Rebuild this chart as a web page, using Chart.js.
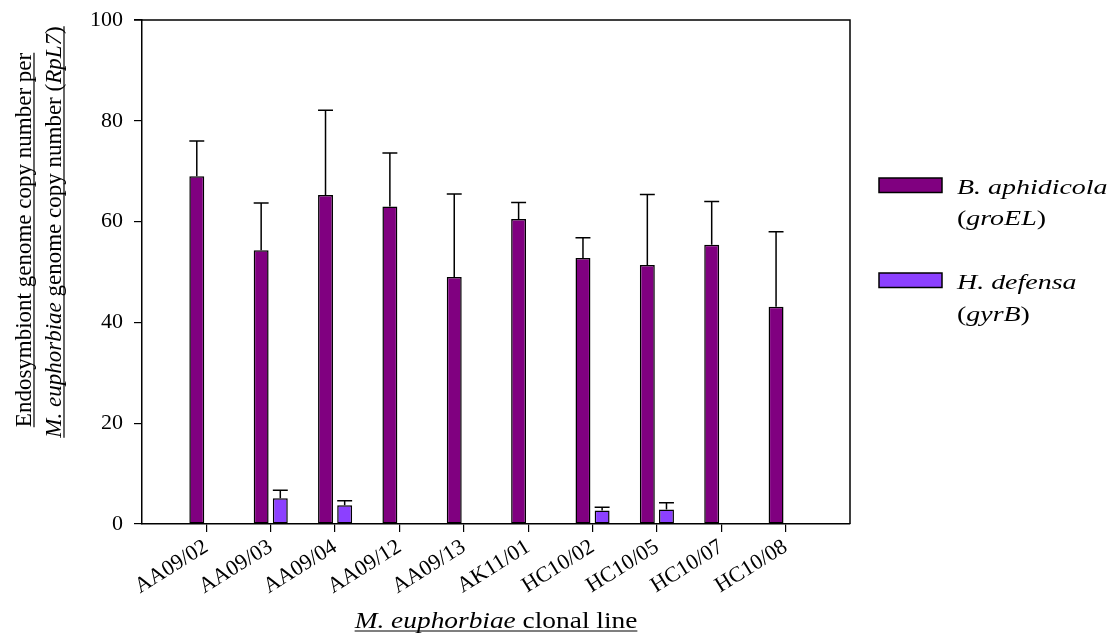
<!DOCTYPE html>
<html>
<head>
<meta charset="utf-8">
<script src="https://cdn.jsdelivr.net/npm/chart.js@4"></script>
<style>
  html, body { margin: 0; padding: 0; background: #fff; }
  #wrap { width: 1117px; height: 644px; }
</style>
</head>
<body>
<div id="wrap"><canvas id="endoChart" width="1117" height="644"></canvas></div>
<script>
const categories = ['AA09/02', 'AA09/03', 'AA09/04', 'AA09/12', 'AA09/13', 'AK11/01', 'HC10/02', 'HC10/05', 'HC10/07', 'HC10/08'];
const buchnera = [69.0, 54.3, 65.3, 63.0, 49.0, 60.5, 52.8, 51.4, 55.4, 43.1];
const buchneraErr = [7.0, 9.4, 16.8, 10.6, 16.5, 3.3, 4.0, 14.0, 8.6, 14.9];
const hamiltonella = [null, 5.1, 3.7, null, null, null, 2.7, 2.9, null, null];
const hamiltonellaErr = [null, 1.6, 0.9, null, null, null, 0.6, 1.3, null, null];
const yTicks = [0, 20, 40, 60, 80, 100];

const SERIF = "'Liberation Serif', 'Times New Roman', Times, serif";
const PURPLE = '#800080';
const LILAC = '#8c40ff';

// draws a row of mixed roman / italic pieces, x is left edge
function drawRuns(ctx, runs, x, y, size, underline) {
  let cx = x;
  runs.forEach(([txt, it]) => {
    ctx.font = (it ? 'italic ' : '') + size + 'px ' + SERIF;
    ctx.fillText(txt, cx, y);
    cx += ctx.measureText(txt).width;
  });
  if (underline) {
    ctx.beginPath();
    ctx.lineWidth = 1.2;
    ctx.moveTo(x, y + 3);
    ctx.lineTo(cx, y + 3);
    ctx.stroke();
  }
  return cx - x;
}

function runsWidth(ctx, runs, size) {
  let w = 0;
  runs.forEach(([txt, it]) => {
    ctx.font = (it ? 'italic ' : '') + size + 'px ' + SERIF;
    w += ctx.measureText(txt).width;
  });
  return w;
}

const errorBars = {
  id: 'errorBars',
  afterDatasetsDraw(chart) {
    const ctx = chart.ctx;
    const y = chart.scales.y;
    const errs = [buchneraErr, hamiltonellaErr];
    ctx.save();
    ctx.strokeStyle = '#000';
    ctx.lineWidth = 1.5;
    chart.data.datasets.forEach((ds, di) => {
      const meta = chart.getDatasetMeta(di);
      meta.data.forEach((bar, i) => {
        const v = ds.data[i].y;
        const e = errs[di][i];
        if (v == null || !e) return;
        const top = y.getPixelForValue(v + e);
        const half = bar.width / 2;
        ctx.beginPath();
        ctx.moveTo(bar.x, bar.y);
        ctx.lineTo(bar.x, top);
        ctx.moveTo(bar.x - half, top);
        ctx.lineTo(bar.x + half, top);
        ctx.stroke();
      });
    });
    ctx.restore();
  }
};

const decorations = {
  id: 'decorations',
  afterDraw(chart) {
    const ctx = chart.ctx;
    const a = chart.chartArea;
    ctx.save();
    ctx.fillStyle = '#000';
    ctx.strokeStyle = '#000';

    // frame top and right
    ctx.lineWidth = 1.5;
    ctx.beginPath();
    ctx.moveTo(a.left - 8, a.top);
    ctx.lineTo(a.right, a.top);
    ctx.lineTo(a.right, a.bottom);
    ctx.stroke();

    // y title, two underlined lines
    const l1 = [['Endosymbiont genome copy number per', false]];
    const l2 = [['M. euphorbiae', true], [' genome copy number (', false], ['RpL7', true], [')', false]];
    ctx.textBaseline = 'alphabetic';
    ctx.textAlign = 'left';
    ctx.save();
    ctx.translate(31, 240);
    ctx.rotate(-Math.PI / 2);
    drawRuns(ctx, l1, -runsWidth(ctx, l1, 23) / 2, 0, 23, true);
    ctx.restore();
    ctx.save();
    ctx.translate(61, 232);
    ctx.rotate(-Math.PI / 2);
    drawRuns(ctx, l2, -runsWidth(ctx, l2, 23) / 2, 0, 23, true);
    ctx.restore();

    // x title
    const xt = [['M. euphorbiae', true], [' clonal line', false]];
    ctx.save();
    ctx.translate((a.left + a.right) / 2, 628);
    ctx.scale(1.19, 1);
    drawRuns(ctx, xt, -runsWidth(ctx, xt, 23) / 2, 0, 23, true);
    ctx.restore();

    // legend
    const items = [
      { color: PURPLE, top: 178, l1: [['B. aphidicola', true]], l2: [['(', false], ['groEL', true], [')', false]], y1: 194, y2: 225 },
      { color: LILAC, top: 273, l1: [['H. defensa', true]], l2: [['(', false], ['gyrB', true], [')', false]], y1: 289, y2: 321 }
    ];
    items.forEach(it => {
      ctx.fillStyle = it.color;
      ctx.fillRect(879, it.top, 63, 14.5);
      ctx.lineWidth = 1.5;
      ctx.strokeRect(879, it.top, 63, 14.5);
      ctx.fillStyle = '#000';
      [[it.l1, it.y1], [it.l2, it.y2]].forEach(([r, yy]) => {
        ctx.save();
        ctx.translate(957, yy);
        ctx.scale(1.27, 1);
        drawRuns(ctx, r, 0, 0, 22, false);
        ctx.restore();
      });
    });
    ctx.restore();
  }
};

function build() {
  new Chart(document.getElementById('endoChart'), {
    type: 'bar',
    data: {
      datasets: [
        {
          label: 'B. aphidicola (groEL)',
          data: categories.map((c, i) => ({ x: i, y: buchnera[i] })),
          backgroundColor: PURPLE,
          borderColor: '#000',
          borderWidth: 1.5,
          borderSkipped: false,
          categoryPercentage: 0.595,
          barPercentage: 0.78
        },
        {
          label: 'H. defensa (gyrB)',
          data: categories.map((c, i) => ({ x: i, y: hamiltonella[i] })),
          backgroundColor: LILAC,
          borderColor: '#000',
          borderWidth: 1.5,
          borderSkipped: false,
          categoryPercentage: 0.595,
          barPercentage: 0.78
        }
      ]
    },
    options: {
      responsive: false,
      animation: false,
      layout: { padding: { left: 0, right: 267, top: 20, bottom: 0 } },
      plugins: {
        legend: { display: false },
        tooltip: { enabled: false }
      },
      scales: {
        x: {
          type: 'linear',
          min: -1,
          max: 10,
          offset: false,
          afterBuildTicks: s => { s.ticks = categories.map((c, i) => ({ value: i })); },
          afterFit: s => { s.height = 120; },
          grid: { offset: false, drawOnChartArea: false, color: '#000', tickLength: 8, lineWidth: 1.2 },
          border: { color: '#000', width: 1.5 },
          ticks: {
            autoSkip: false,
            minRotation: 32,
            maxRotation: 32,
            padding: 2,
            color: '#000',
            font: { family: SERIF, size: 22 },
            callback: v => categories[v]
          }
        },
        y: {
          min: 0,
          max: 100,
          afterBuildTicks: s => { s.ticks = yTicks.map(v => ({ value: v })); },
          afterFit: s => { s.width = 142; s.paddingTop = 0; s.paddingBottom = 0; },
          grid: { drawOnChartArea: false, color: '#000', tickLength: 8, lineWidth: 1.2 },
          border: { color: '#000', width: 1.5 },
          ticks: {
            padding: 11,
            color: '#000',
            font: { family: SERIF, size: 22 }
          }
        }
      }
    },
    plugins: [errorBars, decorations]
  });
}

Promise.all([
  document.fonts.load("22px 'Liberation Serif'"),
  document.fonts.load("italic 22px 'Liberation Serif'")
]).catch(() => {}).then(build);
</script>
</body>
</html>
